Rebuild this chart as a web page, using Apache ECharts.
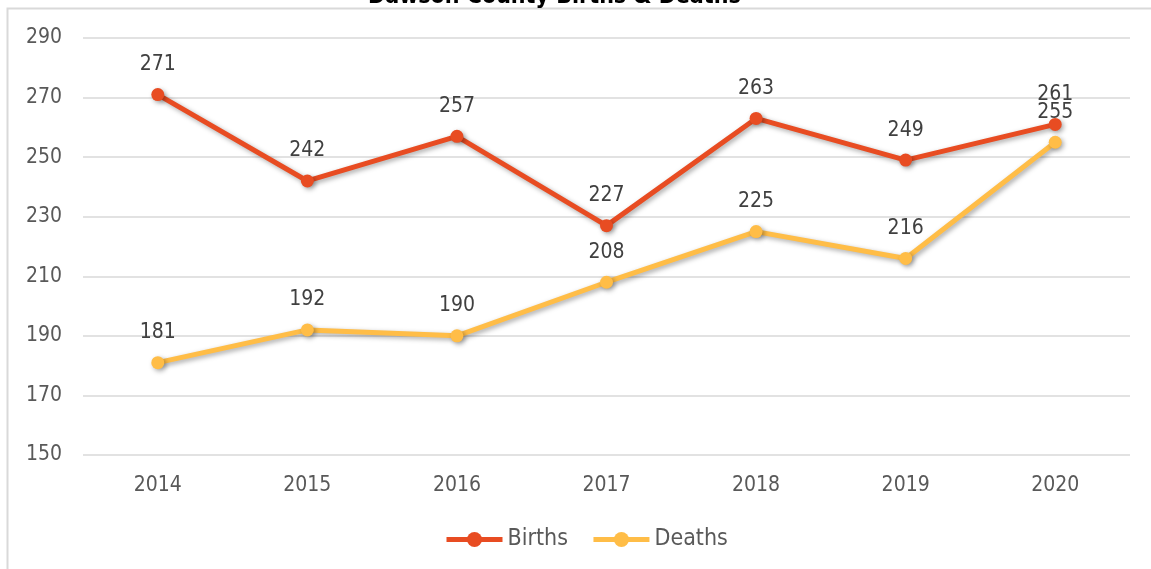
<!DOCTYPE html>
<html>
<head>
<meta charset="utf-8">
<script src="https://cdn.jsdelivr.net/npm/echarts@6/dist/echarts.min.js"></script>
<style>
  html, body { margin: 0; padding: 0; background: #fff; }
  #chart { width: 1151px; height: 569px; }
</style>
</head>
<body>
<div id="chart"></div>
<script>
const years = ['2014', '2015', '2016', '2017', '2018', '2019', '2020']
const births = [271, 242, 257, 227, 263, 249, 261]
const deaths = [181, 192, 190, 208, 225, 216, 255]

const font = 'DejaVu Sans Condensed'
const txt = '#595959'

const myChart = echarts.init(document.getElementById('chart'))

function line(name, data, color) {
  return {
    name: name,
    type: 'line',
    data: data,
    symbol: 'circle',
    symbolSize: 13,
    lineStyle: {
      width: 5,
      color: color,
      shadowColor: 'rgba(0,0,0,0.35)',
      shadowBlur: 5,
      shadowOffsetX: 2,
      shadowOffsetY: 2
    },
    itemStyle: {
      color: color,
      shadowColor: 'rgba(0,0,0,0.35)',
      shadowBlur: 5,
      shadowOffsetX: 2,
      shadowOffsetY: 2
    },
    label: {
      show: true,
      position: 'top',
      distance: 13,
      fontFamily: font,
      fontSize: 21,
      color: '#404040'
    }
  }
}

myChart.setOption({
  animation: false,
  title: {
    text: 'Dawson County Births & Deaths',
    left: 363,
    top: -19,
    textStyle: { fontFamily: font, fontSize: 23, fontWeight: 'bold', color: '#000' }
  },
  graphic: [{
    type: 'rect',
    shape: { x: 7.5, y: 8.5, width: 1200, height: 600 },
    style: { fill: 'none', stroke: '#d9d9d9', lineWidth: 2 },
    z: -1
  }],
  grid: { left: 83, right: 21, top: 38, bottom: 114 },
  legend: {
    bottom: 13,
    left: 439,
    itemWidth: 56,
    itemHeight: 19,
    itemGap: 23,
    lineStyle: { width: 5, shadowBlur: 0, shadowOffsetX: 0, shadowOffsetY: 0 },
    itemStyle: { shadowBlur: 0, shadowOffsetX: 0, shadowOffsetY: 0 },
    textStyle: { fontFamily: font, fontSize: 23, color: txt }
  },
  xAxis: {
    type: 'category',
    data: years,
    axisLine: { show: false },
    axisTick: { show: false },
    axisLabel: { fontFamily: font, fontSize: 21, color: txt, margin: 20 }
  },
  yAxis: {
    type: 'value',
    min: 150,
    max: 290,
    interval: 20,
    axisLine: { show: false },
    axisTick: { show: false },
    axisLabel: { fontFamily: font, fontSize: 21, color: txt, margin: 21 },
    splitLine: { lineStyle: { color: '#d9d9d9', width: 1.5 } }
  },
  series: [
    line('Births', births, '#e84c22'),
    line('Deaths', deaths, '#ffbd47')
  ]
})
</script>
</body>
</html>
